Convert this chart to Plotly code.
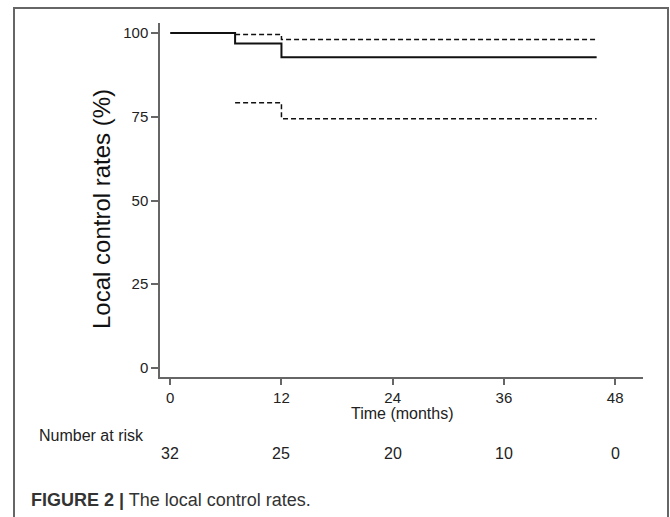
import plotly.graph_objects as go

# Data
time_est = [0, 7, 12, 46]
surv_est = [100, 96.9, 92.8, 92.8]
time_ci = [7, 12, 46]
ci_upper = [99.6, 98.1, 98.1]
ci_lower = [79.2, 74.4, 74.4]
risk_times = [0, 12, 24, 36, 48]
risk_counts = [32, 25, 20, 10, 0]
x_ticks = [0, 12, 24, 36, 48]
y_ticks = [0, 25, 50, 75, 100]

FONT = "Liberation Sans, Arial, sans-serif"

fig = go.Figure()
fig.add_trace(go.Scatter(x=time_est, y=surv_est, mode="lines", line_shape="hv",
                         line=dict(color="#111", width=2), showlegend=False))
fig.add_trace(go.Scatter(x=time_ci, y=ci_upper, mode="lines", line_shape="hv",
                         line=dict(color="#111", width=1.5, dash="5px,3px"), showlegend=False))
fig.add_trace(go.Scatter(x=time_ci, y=ci_lower, mode="lines", line_shape="hv",
                         line=dict(color="#111", width=1.5, dash="5px,3px"), showlegend=False))

L, R, T, B = 160, 643, 23, 377
W, H = 670, 517

def px(xp):
    return (xp - L) / (R - L)

def py(yp):
    return (B - yp) / (B - T)

annotations = []
for t, n in zip(risk_times, risk_counts):
    annotations.append(dict(x=t, xref="x", y=py(453), yref="paper", text=str(n),
                            showarrow=False, xanchor="center", yanchor="middle",
                            font=dict(family=FONT, size=16, color="#222")))
annotations.append(dict(x=px(146), xref="paper", y=py(435), yref="paper", text="Number at risk",
                        showarrow=False, xanchor="right", yanchor="middle",
                        font=dict(family=FONT, size=16, color="#222")))
annotations.append(dict(x=px(402), xref="paper", y=py(413), yref="paper", text="Time (months)",
                        showarrow=False, xanchor="center", yanchor="middle",
                        font=dict(family=FONT, size=16, color="#222")))
annotations.append(dict(x=px(102), xref="paper", y=py(209), yref="paper", text="Local control rates (%)",
                        showarrow=False, xanchor="center", yanchor="middle", textangle=-90,
                        font=dict(family=FONT, size=24, color="#111")))
annotations.append(dict(x=px(29), xref="paper", y=py(500), yref="paper",
                        text="<b>FIGURE 2 |</b> The local control rates.",
                        showarrow=False, xanchor="left", yanchor="middle",
                        font=dict(family=FONT, size=18, color="#333")))

shapes = [dict(type="rect", xref="paper", yref="paper",
               x0=px(14), x1=px(668), y0=py(8), y1=py(540),
               line=dict(color="#666", width=2), fillcolor="rgba(0,0,0,0)", layer="below")]

fig.update_layout(
    width=W, height=H,
    margin=dict(l=L, r=W - R, t=T, b=H - B),
    plot_bgcolor="white", paper_bgcolor="white",
    annotations=annotations, shapes=shapes,
    xaxis=dict(range=[-1.1, 51.0], tickvals=x_ticks, ticks="outside", ticklen=6,
               tickcolor="#666", tickwidth=1.5, showline=True, linecolor="#666", linewidth=1.5,
               showgrid=False, zeroline=False,
               tickfont=dict(family=FONT, size=15, color="#222")),
    yaxis=dict(range=[-2.7, 103], tickvals=y_ticks, ticks="outside", ticklen=7,
               tickcolor="#666", tickwidth=1.5, showline=True, linecolor="#666", linewidth=1.5,
               showgrid=False, zeroline=False,
               tickfont=dict(family=FONT, size=15, color="#222")),
)

fig.write_html("out.html")
